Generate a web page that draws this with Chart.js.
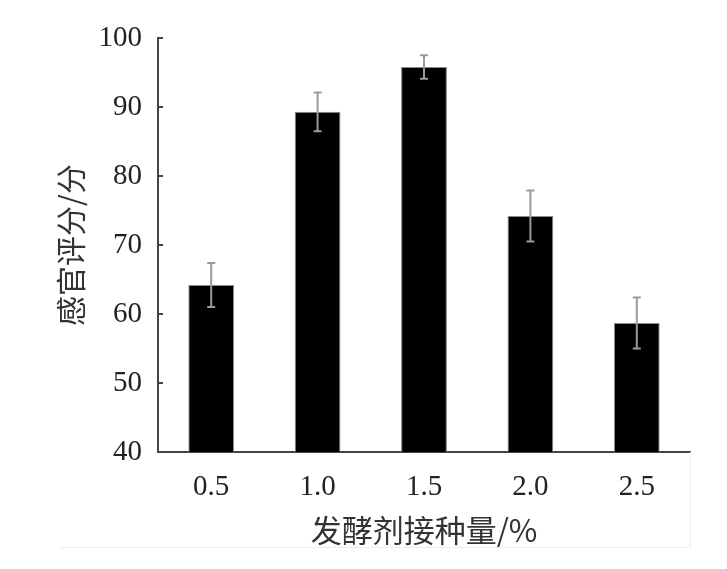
<!DOCTYPE html>
<html><head><meta charset="utf-8">
<script src="https://cdn.jsdelivr.net/npm/chart.js@4/dist/chart.umd.min.js"></script>
<style>html,body{margin:0;padding:0;background:#fff}#wrap{width:727px;height:569px;position:relative}</style>
</head><body><div id="wrap"><canvas id="c" width="727" height="569"></canvas></div>
<script>
const categories = ['0.5','1.0','1.5','2.0','2.5'];
const scores = [64.2, 89.3, 95.8, 74.2, 58.7];
const errors = [3.2, 2.8, 1.7, 3.7, 3.7];
const yTicks = [40,50,60,70,80,90,100];

const errPlugin = {
  id:'err',
  afterDatasetsDraw(chart){
    const {ctx, scales:{x,y}} = chart;
    ctx.save();
    ctx.strokeStyle='#9a9a9a'; ctx.lineWidth=2;
    scores.forEach((v,i)=>{
      const px = x.getPixelForValue(i);
      const t = y.getPixelForValue(v+errors[i]);
      const b = y.getPixelForValue(v-errors[i]);
      ctx.beginPath();
      ctx.moveTo(px,t); ctx.lineTo(px,b);
      ctx.moveTo(px-4,t); ctx.lineTo(px+4,t);
      ctx.moveTo(px-4,b); ctx.lineTo(px+4,b);
      ctx.stroke();
    });
    ctx.strokeStyle='#444'; ctx.lineWidth=2;
    yTicks.forEach(t=>{
      const py = y.getPixelForValue(t);
      ctx.beginPath(); ctx.moveTo(x.left, py); ctx.lineTo(x.left+5, py); ctx.stroke();
    });
    ctx.strokeStyle='#ececec'; ctx.lineWidth=1;
    ctx.beginPath(); ctx.moveTo(690.5, 452); ctx.lineTo(690.5, 547.5); ctx.lineTo(60, 547.5); ctx.stroke();
    ctx.restore();
  }
};

new Chart(document.getElementById('c'), {
  type:'bar',
  data:{labels:categories, datasets:[{data:scores, backgroundColor:'#000', borderColor:'#8a8a8a', borderWidth:1, categoryPercentage:1, barPercentage:0.43}]},
  options:{
    responsive:false, animation:false,
    layout:{padding:{left:53,right:37,top:38,bottom:20}},
    plugins:{legend:{display:false}, tooltip:{enabled:false}},
    scales:{
      x:{
        grid:{display:false, drawTicks:false},
        border:{color:'#444', width:2},
        ticks:{color:'#222', padding:18, font:{family:'Liberation Serif', size:29}},
        title:{display:true, text:'发酵剂接种量/%', color:'#333', padding:{top:2,bottom:0}, font:{family:'Noto Sans CJK SC', size:31}},
        afterFit(s){ s.height = 97; }
      },
      y:{
        min:40, max:100,
        afterBuildTicks(s){ s.ticks = yTicks.map(v=>({value:v})); },
        grid:{display:false, drawTicks:false},
        border:{color:'#444', width:2},
        ticks:{color:'#222', padding:16, font:{family:'Liberation Serif', size:29}},
        title:{display:true, text:'感官评分/分', color:'#333', padding:{top:0,bottom:8}, font:{family:'Noto Sans CJK SC', size:30}},
        afterFit(s){ s.width = 105; }
      }
    }
  },
  plugins:[errPlugin]
});
</script></body></html>
